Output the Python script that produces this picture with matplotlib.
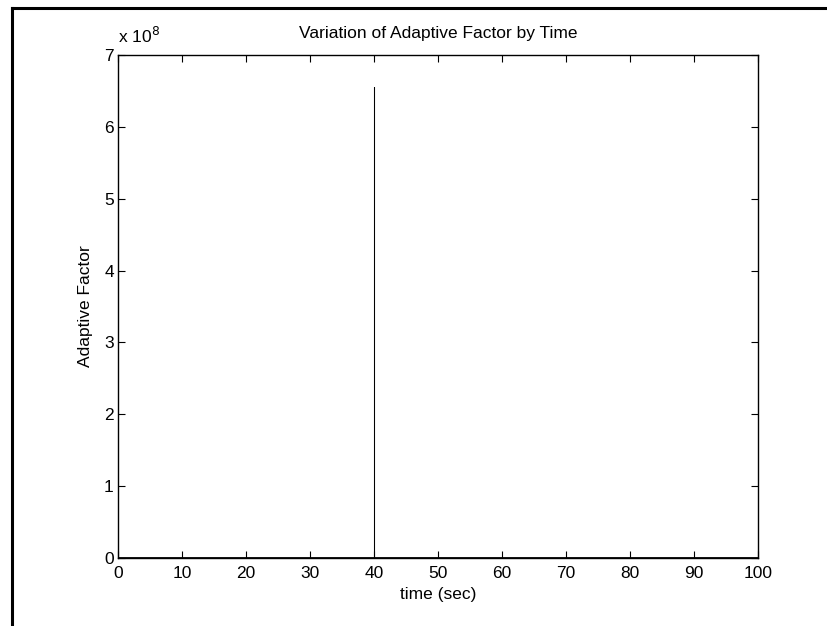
import matplotlib.pyplot as plt
from matplotlib.lines import Line2D
from matplotlib.ticker import FuncFormatter, MultipleLocator

plt.rcParams['font.family'] = ['Liberation Sans', 'DejaVu Sans']

# data (spike at t = 40 s)
time_s = [0, 40, 40, 40, 100]
adaptive_factor = [0, 0, 6.55e8, 0, 0]

fig = plt.figure(figsize=(8.27, 6.26), dpi=100)
ax = fig.add_axes([0.1427, 0.1086, 0.7739, 0.8035])

ax.plot(time_s, adaptive_factor, color='black', linewidth=0.75)
ax.axhline(0, color='black', linewidth=2.0)

ax.set_xlim(0, 100)
ax.set_ylim(0, 7e8)
ax.xaxis.set_major_locator(MultipleLocator(10))
ax.yaxis.set_major_locator(MultipleLocator(1e8))
ax.yaxis.set_major_formatter(FuncFormatter(lambda v, p: f"{v / 1e8:g}"))

ax.tick_params(direction='in', length=5, width=0.8, top=True, right=True,
               labelsize=12.5)
ax.tick_params(axis='x', pad=6)
ax.tick_params(axis='y', pad=3)
for s in ax.spines.values():
    s.set_linewidth(1.0)

ax.set_title("Variation of Adaptive Factor by Time", fontsize=12.5, pad=12)
ax.set_xlabel("time (sec)", fontsize=12.5, labelpad=4)
ax.set_ylabel("Adaptive Factor", fontsize=12.5, labelpad=8)
ax.text(0.0, 1.018, r"x 10$^{8}$", transform=ax.transAxes, fontsize=12.5,
        ha='left', va='bottom')

# frame of the cropped figure
fig.add_artist(Line2D([12 / 827, 12 / 827], [0, 1 - 8 / 626],
                      transform=fig.transFigure, color='black', linewidth=2.2))
fig.add_artist(Line2D([12 / 827, 1], [1 - 8 / 626, 1 - 8 / 626],
                      transform=fig.transFigure, color='black', linewidth=2.2))

fig.savefig("out.png", dpi=100)
